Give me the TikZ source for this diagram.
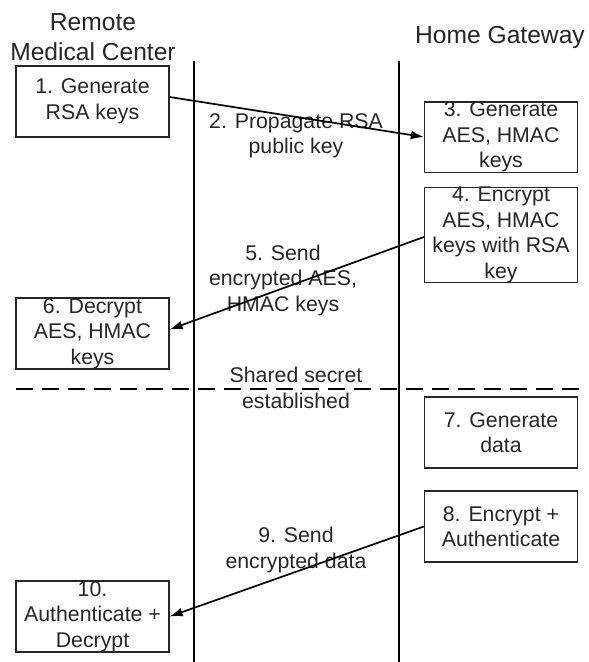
\documentclass[tikz,border=0pt]{standalone}
\usepackage{fontspec}
\setmainfont{Liberation Sans}
\usetikzlibrary{arrows.meta, positioning}
\definecolor{ink}{HTML}{262626}
\tikzstyle{stepbox}=[draw=ink, line width=1.3pt, minimum width=153pt, minimum height=71pt, inner sep=0pt, align=center, text=ink, font=\fontsize{21.3}{25.5}\selectfont]
\tikzstyle{msg}=[align=center, inner sep=0pt, text=ink, font=\fontsize{21.3}{25.5}\selectfont]
\tikzstyle{head}=[align=center, inner sep=0pt, text=ink, font=\fontsize{24.6}{30}\selectfont]
\tikzstyle{send}=[line width=1.7pt, -{Latex[length=13pt,width=9pt]}]

\begin{document}
\begin{tikzpicture}[x=1pt, y=-1pt]
\useasboundingbox (0,0) rectangle (589,662);
\node [head] (rmc) at (93,37) {Remote\\Medical Center};
\node [head] (hg) at (500,37) {Home Gateway};
\coordinate (rt) at (194,61); \coordinate (rb) at (194,662);
\coordinate (ht) at (399,61); \coordinate (hb) at (399,662);
\coordinate (dl) at (16,389); \coordinate (dr) at (582,389);
\draw [line width=1.6pt] (rt) -- (rb) (ht) -- (hb);
\draw [line width=1.8pt, dash pattern=on 17pt off 9pt] (dl) -- (dr);

\node [stepbox] (b1) at (92.5,101.5) {1. Generate\\RSA keys};
\node [stepbox, minimum height=70pt] (b3) at (501,137) {3. Generate\\AES, HMAC\\keys};
\node [stepbox, minimum height=94pt] (b4) at (501,235) {4. Encrypt\\AES, HMAC\\keys with RSA\\key};
\node [stepbox] (b6) at (92.5,333.5) {6. Decrypt\\AES, HMAC\\keys};
\node [stepbox] (b7) at (501,432.5) {7. Generate\\data};
\node [stepbox] (b8) at (501,526.5) {8. Encrypt +\\Authenticate};
\node [stepbox] (b10) at (92.5,616.5) {10.\\Authenticate +\\Decrypt};

\node [msg] (m2) at (296,136) {2. Propagate RSA\\public key};
\node [msg] (m5) at (283,280) {5. Send\\encrypted AES,\\HMAC keys};
\node [msg] (sec) at (296,388) {Shared secret\\established};
\node [msg] (m9) at (296,550) {9. Send\\encrypted data};

\draw [send] ([yshift=4.5pt]b1.east) -- (b3.west);
\draw [send] ([yshift=-2pt]b4.west) -- ([yshift=4pt]b6.east);
\draw [send] (b8.west) -- (b10.east);
\end{tikzpicture}
\end{document}
